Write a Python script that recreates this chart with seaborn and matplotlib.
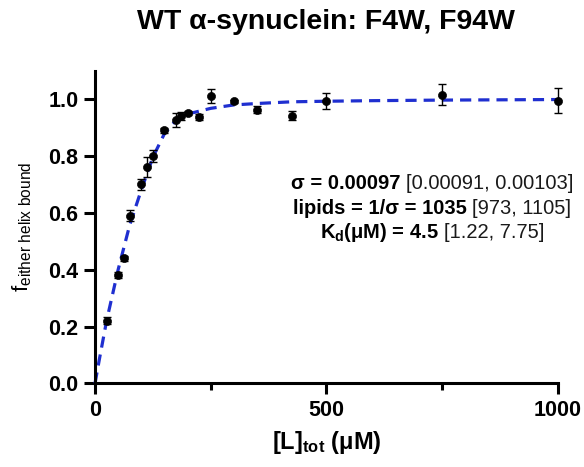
import matplotlib
matplotlib.use("Agg")
import matplotlib.pyplot as plt
import seaborn as sns
import numpy as np
import pandas as pd
from matplotlib.ticker import MultipleLocator

# data
lipid_conc = [25, 50, 62.5, 75, 100, 112.5, 125, 150, 175, 185, 200, 225, 250, 300, 350, 425, 500, 750, 1000]
frac_bound = [0.22, 0.38, 0.44, 0.59, 0.70, 0.76, 0.80, 0.89, 0.925, 0.94, 0.95, 0.937, 1.01, 0.992, 0.962, 0.941, 0.992, 1.015, 0.994]
frac_err = [0.012, 0.01, 0.008, 0.02, 0.019, 0.035, 0.02, 0.008, 0.025, 0.015, 0.008, 0.01, 0.025, 0.006, 0.012, 0.015, 0.028, 0.036, 0.044]

fit_x = [0, 10, 25, 50, 75, 100, 125, 150, 175, 200, 250, 300, 350, 425, 500, 600, 750, 1000]
fit_y = [0.0, 0.09, 0.22, 0.40, 0.557, 0.68, 0.795, 0.878, 0.925, 0.947, 0.967, 0.979, 0.984, 0.99, 0.992, 0.994, 0.996, 0.998]

title = "WT α-synuclein: F4W, F94W"
stats_bold = ["σ = 0.00097", "lipids = 1/σ = 1035", r"K$_{\mathbf{d}}$(μM) = 4.5"]
stats_ci = ["[0.00091, 0.00103]", "[973, 1105]", "[1.22, 7.75]"]

sns.set_style("ticks")
plt.rcParams['font.family'] = ['Liberation Sans', 'DejaVu Sans']
plt.rcParams['mathtext.fontset'] = 'custom'
plt.rcParams['mathtext.rm'] = 'Liberation Sans'
plt.rcParams['mathtext.bf'] = 'Liberation Sans:bold'
plt.rcParams['mathtext.it'] = 'Liberation Sans:italic'
for k in ['text.color', 'axes.labelcolor', 'xtick.color', 'ytick.color', 'axes.edgecolor']:
    plt.rcParams[k] = 'black'

W, H = 584, 467
fig = plt.figure(figsize=(W / 100, H / 100), dpi=100)
ax = fig.add_axes([0.1627, 0.179, 0.955 - 0.1627, 0.849 - 0.179])

fit_df = pd.DataFrame({"x": fit_x, "y": fit_y})
pts_df = pd.DataFrame({"x": lipid_conc, "y": frac_bound, "e": frac_err})

sns.lineplot(data=fit_df, x="x", y="y", ax=ax, color="#1f2fd0", lw=2.3,
             linestyle=(0, (3.5, 2.2)), clip_on=False, zorder=2)
ax.errorbar(pts_df["x"], pts_df["y"], yerr=pts_df["e"], fmt="none", ecolor="black",
            elinewidth=1.0, capsize=3, capthick=1.0, zorder=3, clip_on=False)
sns.scatterplot(data=pts_df, x="x", y="y", ax=ax, color="black", s=34,
                edgecolor="black", zorder=4, clip_on=False)

ax.set_xlim(0, 1000)
ax.set_ylim(0, 1.1)
ax.set_xticks([0, 500, 1000])
ax.xaxis.set_minor_locator(MultipleLocator(250))
ax.set_yticks([0.0, 0.2, 0.4, 0.6, 0.8, 1.0])
ax.set_yticklabels(["0.0", "0.2", "0.4", "0.6", "0.8", "1.0"])
for s in ["top", "right"]:
    ax.spines[s].set_visible(False)
for s in ["left", "bottom"]:
    ax.spines[s].set_linewidth(2.2)
    ax.spines[s].set_color("black")
ax.tick_params(axis="both", which="major", length=8, width=2.2, labelsize=15.5, pad=4, colors="black")
ax.tick_params(axis="x", which="minor", length=5, width=2.2, colors="black")
for lab in ax.get_xticklabels() + ax.get_yticklabels():
    lab.set_fontweight("bold")

ax.set_xlabel(r"[L]$_{\mathbf{tot}}$ (μM)", fontsize=17, fontweight="bold", labelpad=6)
ax.set_ylabel(r"f$_{\mathrm{either\ helix\ bound}}$", fontsize=16, labelpad=10)
ax.set_title(title, fontsize=20.5, fontweight="bold", pad=30)

# annotation lines: bold value followed by regular confidence interval, centred
fs = 14.5
gap = 5
center_x = 432
line_y = [183, 208, 233]
renderer = fig.canvas.get_renderer()
for b, c, yy in zip(stats_bold, stats_ci, line_y):
    tb = fig.text(0, 1 - yy / H, b, ha="left", va="center", fontsize=fs, fontweight="bold")
    tc = fig.text(0, 1 - yy / H, c, ha="left", va="center", fontsize=fs, color="#1a1a1a")
    wb = tb.get_window_extent(renderer).width
    wc = tc.get_window_extent(renderer).width
    x0 = center_x - (wb + gap + wc) / 2
    tb.set_x(x0 / W)
    tc.set_x((x0 + wb + gap) / W)

fig.savefig("out.png", dpi=100)
